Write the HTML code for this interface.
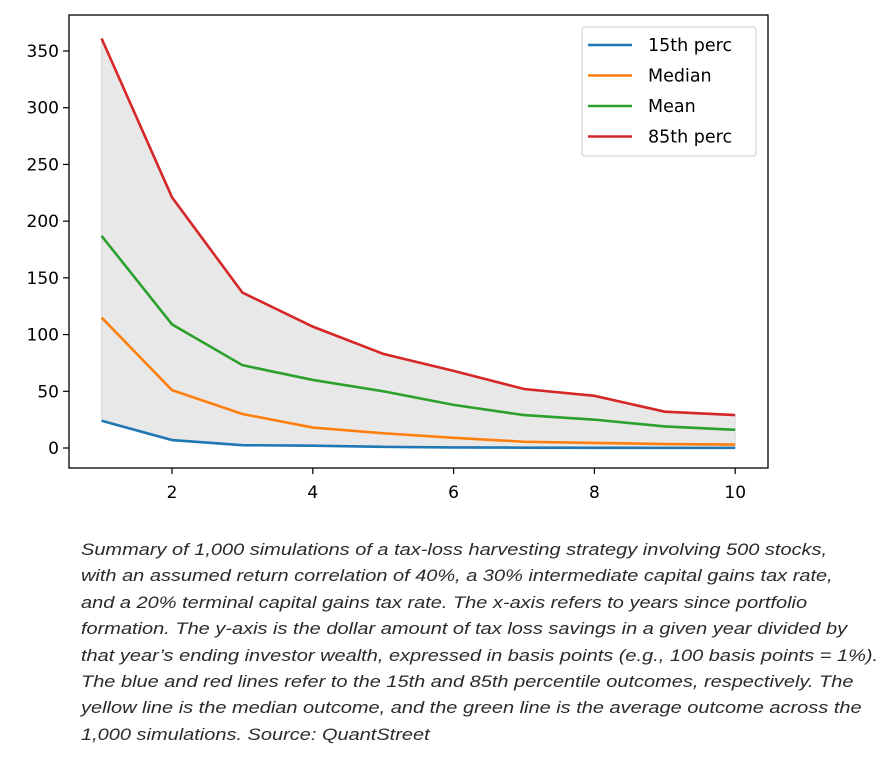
<!DOCTYPE html>
<html><head><meta charset="utf-8"><style>
body{margin:0;background:#fff;width:883px;height:762px;overflow:hidden}
svg{position:absolute;left:0;top:0}
.cap{position:absolute;left:81px;top:537px;width:680px;font-family:"Liberation Sans",sans-serif;font-style:italic;font-size:17px;line-height:26.4px;color:#2a2a2a;white-space:nowrap;transform:scaleX(1.175);transform-origin:0 0}
</style></head><body>
<svg id="chart" width="883" height="520" font-family="DejaVu Sans, sans-serif"></svg>
<div class="cap">Summary of 1,000 simulations of a tax-loss harvesting strategy involving 500 stocks,<br>with an assumed return correlation of 40%, a 30% intermediate capital gains tax rate,<br>and a 20% terminal capital gains tax rate. The x-axis refers to years since portfolio<br>formation. The y-axis is the dollar amount of tax loss savings in a given year divided by<br>that year’s ending investor wealth, expressed in basis points (e.g., 100 basis points = 1%).<br>The blue and red lines refer to the 15th and 85th percentile outcomes, respectively. The<br>yellow line is the median outcome, and the green line is the average outcome across the<br>1,000 simulations. Source: QuantStreet</div>
<script>
const years=[1,2,3,4,5,6,7,8,9,10];
const p15=[24,7,2.5,2,1,0.5,0.3,0.2,0.1,0.1];
const median=[115,51,30,18,13,9,5.5,4.5,3.5,3];
const mean=[187,109,73,60,50,38,29,25,19,16];
const p85=[361,221,137,107,83,68,52,46,32,29];
const yTicks=[0,50,100,150,200,250,300,350];
const xTicks=[2,4,6,8,10];
const NS="http://www.w3.org/2000/svg";
const svg=document.getElementById('chart');
const L=69,R=768,T=15,B=468;
const xs=v=>101.6+(v-1)*70.4;
const ys=v=>448-v*(397/350);
function mk(t,a){const e=document.createElementNS(NS,t);for(const k in a)e.setAttribute(k,a[k]);svg.appendChild(e);return e;}
let d=years.map((y,i)=>(i?'L':'M')+xs(y)+','+ys(p85[i])).join('')+years.slice().reverse().map((y,j)=>'L'+xs(y)+','+ys(p15[years.length-1-j])).join('')+'Z';
const band=mk('path',{d:d,fill:'#e8e8e8',stroke:'#d8d8d8','stroke-width':1});


const series=[[p15,'#1f77b4','line-15th-perc'],[median,'#ff7f0e','line-median'],[mean,'#2ca02c','line-mean'],[p85,'#d62728','line-85th-perc']];
series.forEach(s=>{const p=mk('polyline',{points:years.map((y,i)=>xs(y)+','+ys(s[0][i])).join(' '),fill:'none',stroke:s[1],'stroke-width':2.6});

});
const fr=mk('rect',{x:L,y:T,width:R-L,height:B-T,fill:'none',stroke:'#000','stroke-width':1.3});


yTicks.forEach(v=>{mk('line',{x1:L-6,x2:L,y1:ys(v),y2:ys(v),stroke:'#000','stroke-width':1.2});
const t=mk('text',{x:L-10,y:ys(v)+6,'text-anchor':'end','font-size':17});t.textContent=v;

});
xTicks.forEach(v=>{mk('line',{x1:xs(v),x2:xs(v),y1:B,y2:B+6,stroke:'#000','stroke-width':1.2});
const t=mk('text',{x:xs(v),y:B+30,'text-anchor':'middle','font-size':17});t.textContent=v;

});
const lg=mk('rect',{x:582,y:27,width:174,height:129,rx:3,fill:'#fff',stroke:'#ccc','stroke-width':1});


const names=['15th perc','Median','Mean','85th perc'];
series.forEach((s,i)=>{const y=45+i*30.5;mk('line',{x1:588,x2:632,y1:y,y2:y,stroke:s[1],'stroke-width':2.6});
const t=mk('text',{x:648,y:y+6,'font-size':17.5});t.textContent=names[i];

});
</script>
</body></html>
